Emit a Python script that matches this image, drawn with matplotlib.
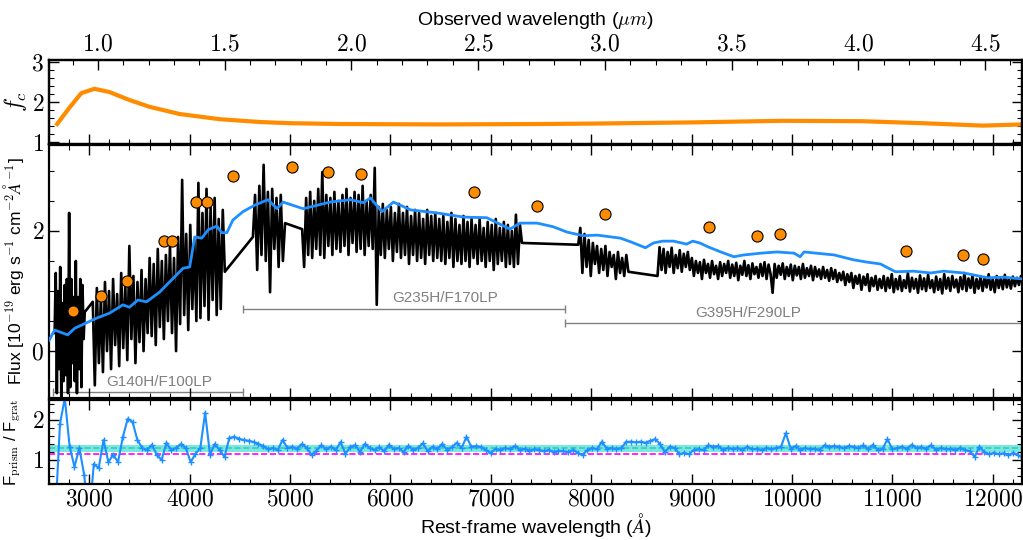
import numpy as np
import matplotlib
matplotlib.use("Agg")
import matplotlib.pyplot as plt
from matplotlib.ticker import MultipleLocator, FuncFormatter

plt.rcParams['font.family'] = ['Liberation Sans', 'DejaVu Sans']
plt.rcParams['mathtext.fontset'] = 'cm'

# Correction factor f_c (top panel)
fc_wave = [2680, 2800, 2920, 3050, 3200, 3400, 3600, 3900, 4300, 4700, 5000, 5500, 6500,
           7500, 8000, 9000, 9900, 10700, 11300, 11900, 12300]
fc_val = [1.45, 1.85, 2.22, 2.33, 2.25, 2.05, 1.88, 1.70, 1.57, 1.50, 1.47, 1.45, 1.44,
          1.45, 1.46, 1.49, 1.53, 1.52, 1.47, 1.41, 1.44]

# Grating spectrum, one list per detector segment (start, end in rest-frame Angstrom)
seg_ranges = [(2655, 2955), (3035, 4350), (4630, 4950), (5120, 7310), (7870, 8370), (8660, 12300)]
seg1 = [0.3, 1.3, -0.7, 1.0, -0.3, 1.4, -0.8, 0.8, -0.5, 1.1, -0.4, 1.2, -0.7, 2.3,
        -0.6, 1.2, -0.2, 0.9, -0.5, 1.5, -0.7, 0.9, -0.3, 1.2, -0.6, 1.1, 0.2, 0.65]
seg2 = [0.82, -0.57, 1.05, -0.2, 0.9, -0.35, 1.15, 0.0, 1.0, -0.3, 1.2, 0.1, 0.95, -0.25,
        1.3, 0.05, 1.1, -0.15, 1.75, 0.2, 1.25, -0.2, 1.15, 0.15, 1.35, 0.0, 1.2, 0.3,
        1.55, 0.25, 1.45, 0.1, 1.7, 0.4, 1.5, 0.2, 1.6, 0.5, 1.75, 0.3, 1.55, 0.0,
        1.9, 0.45, 2.85, 0.6, 1.95, 0.35, 2.1, 0.7, 1.85, 0.5,
        2.8, 0.55, 2.3, 0.75, 2.7, 0.52, 2.4, 0.85, 2.55, 0.6, 2.2, 0.7, 2.35, 1.32]
seg3 = [1.9, 2.6, 1.35, 2.75, 1.6, 3.1, 1.5, 2.65, 0.98, 2.7, 1.7, 2.55, 1.4, 2.6, 1.5, 2.13]
seg4 = [2.03, 1.4, 2.55, 1.6, 2.65, 1.55, 2.5, 1.7, 2.7, 1.6, 2.98, 1.55, 2.6, 1.75, 2.55, 1.6,
        2.65, 1.7, 2.5,
        1.65, 2.6, 1.75, 2.7, 1.6, 2.55, 1.8, 2.65, 1.65, 2.6, 1.7, 2.75, 1.6, 2.5, 1.75, 2.6,
        1.7, 3.05, 0.77, 2.4,
        1.6, 2.45, 1.55, 2.35, 1.7, 2.4, 1.5, 2.3, 1.65, 2.45, 1.55, 2.3, 1.6, 2.4, 1.45, 2.25,
        1.6, 2.35, 1.5, 2.3, 1.55, 2.2, 1.45, 2.35, 1.6, 2.25, 1.5, 2.3, 1.55, 2.2,
        1.5, 2.25, 1.45, 2.15, 1.55, 2.3, 1.4, 2.2, 1.5, 2.1, 1.45, 2.25, 1.5, 2.15, 1.4, 2.2,
        1.55, 2.1, 1.45, 2.2, 1.5, 2.05, 1.4, 2.15, 1.5, 2.1, 1.35, 2.2, 1.45, 2.05, 1.5, 2.15,
        1.4, 2.1, 1.45, 2.0, 1.4, 2.27, 1.45, 2.1, 1.8]
seg5 = [1.77, 2.05, 1.3, 1.95, 1.4, 1.85, 1.25, 1.8, 1.45, 1.75, 1.3, 1.7, 1.35, 1.75, 1.25,
        1.65, 1.4, 1.6, 1.2, 1.65, 1.3, 1.55, 1.25, 1.6, 1.32]
seg6 = [1.25, 1.73, 1.35, 1.7, 1.3, 1.65, 1.4, 1.72, 1.3, 1.6, 1.38, 1.68, 1.32, 1.62, 1.4,
        1.65, 1.35,
        1.55, 1.25, 1.5, 1.3, 1.48, 1.2, 1.52, 1.3, 1.45, 1.22, 1.5, 1.28, 1.42, 1.2, 1.48,
        1.25, 1.45, 1.3, 1.5, 1.22, 1.44, 1.25, 1.47, 1.18, 1.42, 1.27, 1.5, 1.25, 1.43, 1.2,
        1.46, 1.28, 1.4, 1.22, 1.45,
        1.25, 1.48, 1.2, 1.44, 1.28, 0.97, 1.45, 1.22, 1.42, 1.27, 1.46, 1.2, 1.4, 1.25, 1.44,
        1.18, 1.42, 1.26, 1.4, 1.2, 1.45, 1.22, 1.38, 1.25, 1.42, 1.18, 1.4, 1.24, 1.36, 1.2,
        1.4, 1.22, 1.35, 1.17, 1.38,
        1.2, 1.35, 1.15, 1.3, 1.18, 1.32, 1.1, 1.28, 1.15, 1.3, 1.05, 1.25, 1.12, 1.27, 1.02,
        1.24, 1.1, 1.28, 1.0, 1.22, 1.08, 1.25, 1.02, 1.2, 1.05,
        1.25, 1.0, 1.22, 1.05, 1.28, 0.98, 1.2, 1.03, 1.25, 1.0, 1.18, 1.05, 1.3, 0.99, 1.22,
        1.04, 1.2, 0.97, 1.26, 1.03, 1.21, 1.0, 1.27, 1.05, 1.18, 0.98, 1.24, 1.02, 1.2, 0.96,
        1.28, 1.04, 1.22, 1.0, 1.25, 1.06, 1.19, 0.98, 1.23, 1.03, 1.3, 1.0, 1.21, 1.05, 1.26,
        0.97, 1.2, 1.04, 1.24, 1.0, 1.22, 1.06, 1.28, 1.02, 1.2, 0.98, 1.25, 1.05, 1.22, 1.03,
        1.27, 1.06, 1.21, 1.04, 1.24, 1.08, 1.22, 1.1, 1.25, 1.2]
segments = [seg1, seg2, seg3, seg4, seg5, seg6]

# Prism model (blue)
model_wave = [2600, 2655, 2785, 2855, 3075, 3200, 3335, 3400, 3485, 3570,
              3700, 3800, 3935, 4000, 4050, 4120, 4185, 4270, 4320, 4370,
              4430, 4530, 4650, 4780, 4870, 4930, 5130, 5400, 5600, 5730,
              5800, 5915, 6030, 6200, 6460, 6730, 6960, 7190, 7290, 7460,
              7620, 7760, 7920, 8060, 8290, 8390, 8540, 8620, 8710, 8820,
              8950, 9010, 9080, 9170, 9290, 9420, 9520, 9690, 9850, 10020,
              10080, 10120, 10420, 10610, 10750, 10880, 11030, 11210, 11380, 11510,
              11710, 11950, 12110, 12300]
model_flux = [0.18, 0.35, 0.27, 0.38, 0.55, 0.63, 0.77, 0.73, 0.85, 0.82,
              0.98, 1.15, 1.38, 1.40, 1.90, 1.88, 2.02, 2.08, 1.97, 1.97,
              2.18, 2.32, 2.43, 2.52, 2.37, 2.48, 2.37, 2.48, 2.52, 2.47,
              2.55, 2.32, 2.48, 2.35, 2.30, 2.23, 2.22, 2.03, 2.13, 2.13,
              2.07, 1.98, 1.92, 1.93, 1.88, 1.82, 1.72, 1.80, 1.83, 1.83,
              1.78, 1.83, 1.80, 1.73, 1.65, 1.57, 1.60, 1.63, 1.65, 1.63,
              1.57, 1.65, 1.60, 1.52, 1.48, 1.45, 1.32, 1.33, 1.30, 1.33,
              1.30, 1.22, 1.23, 1.20]

# Photometry (orange points)
phot_wave = [2835, 3115, 3375, 3745, 3825, 4065, 4175, 4430, 5020, 5380,
             5710, 6835, 7455, 8140, 9170, 9650, 9880, 11130, 11700, 11900]
phot_flux = [0.67, 0.92, 1.17, 1.83, 1.83, 2.48, 2.48, 2.92, 3.07, 2.98,
             2.95, 2.65, 2.42, 2.28, 2.07, 1.92, 1.95, 1.67, 1.60, 1.53]

# Grating coverage
grat_names = ['G140H/F100LP', 'G235H/F170LP', 'G395H/F290LP']
grat_lo = [2640, 4530, 7740]
grat_hi = [4530, 7740, 12300]
grat_y = [-0.68, 0.70, 0.47]
grat_label_x = [3700, 6545, 9560]
grat_label_y = [-0.52, 0.88, 0.63]

# Prism / grating ratio
ratio_val = [-0.5, 1.9, 2.55, 1.33, 0.83, 1.30, 0.63, -0.5, 0.9, 0.8,
             1.5, 0.95, 1.13, 0.95, 1.58, 2.03, 1.95, 1.5, 1.3, 1.25,
             1.38, 1.13, 1.0, 1.43, 1.25, 1.3, 1.4, 1.3, 0.95, 1.15,
             1.3, 2.18, 1.13, 1.4, 1.25, 1.08, 1.55, 1.58,
             1.53, 1.50, 1.48, 1.45, 1.40, 1.35, 1.27, 1.30, 1.25, 1.50,
             1.30, 1.33, 1.28, 1.40, 1.30, 1.13, 1.23, 1.37, 1.27, 1.33,
             1.25, 1.45, 1.15, 1.33, 1.37, 1.20, 1.40, 1.30, 1.25, 1.32,
             1.22, 1.38, 1.27, 1.30, 1.20, 1.35, 1.25, 1.30, 1.42, 1.22,
             1.33, 1.28, 1.40, 1.25, 1.32, 1.43, 1.30, 1.58, 1.33, 1.35,
             1.32, 1.25, 1.17, 1.28, 1.25, 1.30, 1.27, 1.35, 1.25, 1.28,
             1.23, 1.27, 1.25, 1.22, 1.25, 1.20, 1.23, 1.22, 1.20, 1.25,
             1.18, 1.13, 1.25, 1.30, 1.27, 1.46, 1.28, 1.30, 1.27, 1.30,
             1.45, 1.46, 1.44, 1.46, 1.43, 1.48, 1.52, 1.40, 1.20, 1.33,
             1.30, 1.15, 1.18, 1.15, 1.25, 1.27, 1.25, 1.37, 1.33, 1.35,
             1.25, 1.30, 1.27, 1.30, 1.25, 1.33, 1.27, 1.28, 1.25, 1.30,
             1.27, 1.30, 1.33, 1.67, 1.28, 1.35, 1.25, 1.30, 1.27, 1.28,
             1.25, 1.37, 1.33, 1.35, 1.33, 1.30, 1.35, 1.33, 1.30, 1.37,
             1.27, 1.38, 1.25, 1.28, 1.52, 1.27, 1.30, 1.33, 1.28, 1.38,
             1.30, 1.32, 1.28, 1.37, 1.25, 1.30, 1.27, 1.28, 1.25, 1.30,
             1.25, 1.22, 1.08, 1.33, 1.20, 1.15, 1.18, 1.15, 1.17, 1.13,
             1.18, 1.12, 1.05]
ratio_band = (1.20, 1.38)
ratio_median = 1.30
ratio_ref = 1.15

XMIN, XMAX = 2600, 12290


def cm_fmt(fmt):
    return FuncFormatter(lambda v, p: '$' + format(v, fmt) + '$')


def style_axis(ax):
    ax.tick_params(which='both', direction='in', top=True, right=True, labelsize=17)
    ax.tick_params(which='major', length=7, width=1)
    ax.tick_params(which='minor', length=3.5, width=0.8)
    for s in ax.spines.values():
        s.set_linewidth(1.6)
    ax.xaxis.set_major_locator(MultipleLocator(1000))
    ax.xaxis.set_minor_locator(MultipleLocator(200))
    ax.set_xlim(XMIN, XMAX)


fig = plt.figure(figsize=(10.23, 5.40), dpi=100)
ax_top = fig.add_axes([0.048, 0.7333, 0.951, 0.1556])
ax_mid = fig.add_axes([0.048, 0.2630, 0.951, 0.4685])
ax_bot = fig.add_axes([0.048, 0.1037, 0.951, 0.1556])

# top panel
ax_top.plot(fc_wave, fc_val, color='darkorange', lw=3)
style_axis(ax_top)
ax_top.tick_params(axis='x', top=False, labelbottom=False)
ax_top.set_ylim(0.95, 3.05)
ax_top.yaxis.set_major_locator(MultipleLocator(1))
ax_top.yaxis.set_minor_locator(MultipleLocator(0.2))
ax_top.yaxis.set_major_formatter(cm_fmt('.0f'))
ax_top.set_ylabel('$f_c$', fontsize=17, labelpad=2)

ax_obs = ax_top.twiny()
ax_obs.set_xlim(0.807, 4.646)
ax_obs.xaxis.set_major_locator(MultipleLocator(0.5))
ax_obs.xaxis.set_minor_locator(MultipleLocator(0.1))
ax_obs.xaxis.set_major_formatter(cm_fmt('.1f'))
ax_obs.tick_params(which='both', direction='in', labelsize=17)
ax_obs.tick_params(which='major', length=7, width=1)
ax_obs.tick_params(which='minor', length=3.5, width=0.8)
for s in ax_obs.spines.values():
    s.set_linewidth(1.6)
ax_obs.set_xlabel(r'Observed wavelength ($\mu m$)', fontsize=14, labelpad=6)

# middle panel
wave_all, flux_all = [], []
for (w0, w1), seg in zip(seg_ranges, segments):
    wave_all.extend(np.linspace(w0, w1, len(seg)))
    flux_all.extend(seg)
ax_mid.plot(wave_all, flux_all, color='black', lw=1.9, zorder=2)
ax_mid.plot(model_wave, model_flux, color='#1e8fff', lw=2, zorder=3)
ax_mid.plot(phot_wave, phot_flux, 'o', color='darkorange', mec='black', mew=0.8, ms=8, zorder=4)
for name, lo, hi, gy, lx, ly in zip(grat_names, grat_lo, grat_hi, grat_y, grat_label_x, grat_label_y):
    ax_mid.errorbar((lo + hi) / 2, gy, xerr=(hi - lo) / 2, color='gray', lw=1,
                    capsize=3, capthick=1, zorder=1)
    ax_mid.text(lx, ly, name, color='gray', fontsize=11, ha='center', va='center')
style_axis(ax_mid)
ax_mid.tick_params(axis='x', labelbottom=False)
ax_mid.set_ylim(-0.78, 3.43)
ax_mid.yaxis.set_major_locator(MultipleLocator(2))
ax_mid.yaxis.set_minor_locator(MultipleLocator(0.5))
ax_mid.yaxis.set_major_formatter(cm_fmt('.0f'))
ax_mid.set_ylabel(r'Flux [10$^{-19}$ erg s$^{-1}$ cm$^{-2}$$\AA^{-1}$]', fontsize=12.5, labelpad=4)

# bottom panel
ratio_wave = np.linspace(2660, 12300, len(ratio_val))
ax_bot.axhspan(ratio_band[0], ratio_band[1], color='turquoise', alpha=0.7, lw=0)
ax_bot.axhline(ratio_median, color='#3cc8c0', ls='--', lw=1.2)
ax_bot.axhline(ratio_ref, color='magenta', ls='--', lw=1.2)
ax_bot.plot(ratio_wave, ratio_val, color='#1e8fff', lw=1.5, marker='+', ms=4, mew=1)
style_axis(ax_bot)
ax_bot.set_ylim(0.4, 2.5)
ax_bot.yaxis.set_major_locator(MultipleLocator(1))
ax_bot.yaxis.set_minor_locator(MultipleLocator(0.2))
ax_bot.yaxis.set_major_formatter(cm_fmt('.0f'))
ax_bot.xaxis.set_major_formatter(cm_fmt('.0f'))
ax_bot.set_ylabel(r'F$_{\rm prism}$ / F$_{\rm grat}$', fontsize=12, labelpad=6)
ax_bot.set_xlabel(r'Rest-frame wavelength ($\AA$)', fontsize=14, labelpad=0)

fig.savefig('out.png', dpi=100)
